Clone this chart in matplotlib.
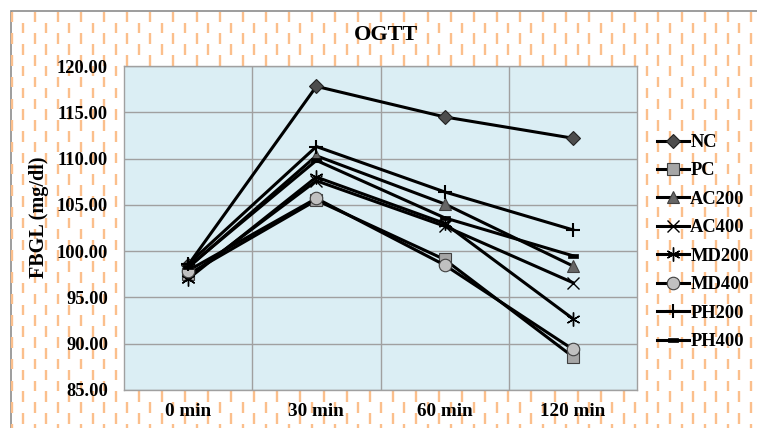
import matplotlib
matplotlib.use("Agg")
import matplotlib.pyplot as plt
from matplotlib.collections import LineCollection
from matplotlib.patches import Rectangle
from matplotlib.path import Path
import numpy as np

categories = ["0 min", "30 min", "60 min", "120 min"]
NC = [98.5, 117.8, 114.5, 112.2]
PC = [97.5, 105.5, 99.1, 88.6]
AC200 = [98.2, 110.3, 105.1, 98.4]
AC400 = [97.2, 107.6, 102.7, 96.6]
MD200 = [97.0, 108.0, 103.0, 92.7]
MD400 = [97.9, 105.7, 98.5, 89.4]
PH200 = [98.6, 111.3, 106.4, 102.3]
PH400 = [98.3, 109.8, 103.6, 99.5]
series_names = ["NC", "PC", "AC200", "AC400", "MD200", "MD400", "PH200", "PH400"]
series_values = [NC, PC, AC200, AC400, MD200, MD400, PH200, PH400]
yticks = [85, 90, 95, 100, 105, 110, 115, 120]

W, H = 757, 428
fig = plt.figure(figsize=(W / 100, H / 100), dpi=100)
fig.patch.set_facecolor("white")

def fx(px):
    return px / W

def fy(py):
    return 1 - py / H

# chart area border and background pattern
fig.add_artist(Rectangle((fx(11), fy(H + 5)), fx(W + 5), (H - 6) / H, transform=fig.transFigure,
                         facecolor="white", edgecolor="#8c8c8c", lw=1.2, zorder=0))
segs = []
col_dx = 11.55
per = 21.7
dash = 10.5
x = 11.7
i = 0
while x < W + 5:
    y0 = 11.7 if i % 2 == 0 else 11.7 + per / 2
    y = y0
    while y < H + 5:
        segs.append([(fx(x), fy(y)), (fx(x), fy(min(y + dash, H + 5)))])
        y += per
    x += col_dx
    i += 1
fig.add_artist(LineCollection(segs, colors="#fbbf8c", linewidths=1.7, transform=fig.transFigure, zorder=0.5))

ax = fig.add_axes([fx(124), fy(390), fx(637) - fx(124), (390 - 66) / H])
ax.set_facecolor("#dbeef4")
ax.set_zorder(1)

rect = Path([(-1, -0.45), (1, -0.45), (1, 0.45), (-1, 0.45), (-1, -0.45)],
            [Path.MOVETO, Path.LINETO, Path.LINETO, Path.LINETO, Path.CLOSEPOLY])
styles = [
    dict(marker="D", ms=7, mfc="#4d4d4d", mec="#222222", mew=0.8),
    dict(marker="s", ms=8, mfc="#a6a6a6", mec="#404040", mew=0.8),
    dict(marker="^", ms=8, mfc="#666666", mec="#404040", mew=0.8),
    dict(marker="x", ms=8, mfc="black", mec="black", mew=1.0),
    dict(marker=(6, 2, 0), ms=10, mfc="black", mec="black", mew=1.0),
    dict(marker="o", ms=9, mfc="#c0c0c0", mec="#404040", mew=0.8),
    dict(marker="+", ms=10, mfc="black", mec="black", mew=1.5),
    dict(marker=rect, ms=7, mfc="black", mec="black", mew=0.5),
]
xs = np.arange(len(categories))
for name, vals, st in zip(series_names, series_values, styles):
    ax.plot(xs, vals, color="black", lw=2.2, label=name, zorder=3, **st)

ax.set_xlim(-0.5, len(categories) - 0.5)
ax.set_ylim(85, 120)
ax.set_yticks(yticks)
ax.set_yticklabels([f"{v:.2f}" for v in yticks])
ax.set_xticks(xs)
ax.set_xticklabels(categories)
ax.set_xticks([0.5, 1.5, 2.5], minor=True)
ax.grid(True, which="major", axis="y", color="#a0a0a0", lw=1.0, zorder=1)
ax.grid(True, which="minor", axis="x", color="#a0a0a0", lw=1.0, zorder=1)
ax.tick_params(which="both", length=0)
ax.tick_params(axis="y", pad=11.5)
ax.tick_params(axis="x", pad=9)
for lab in ax.get_xticklabels():
    lab.set_fontfamily("Liberation Serif")
    lab.set_fontweight("bold")
    lab.set_fontsize(13.8)
for lab in ax.get_yticklabels():
    lab.set_fontfamily("Liberation Serif")
    lab.set_fontweight("bold")
    lab.set_fontsize(13.3)
for sp in ax.spines.values():
    sp.set_color("#a0a0a0")
    sp.set_linewidth(1.0)

fig.text(fx(386), fy(35), "OGTT", ha="center", va="center", fontfamily="Liberation Serif",
         fontweight="bold", fontsize=16)
fig.text(fx(39), fy(217), "FBGL (mg/dl)", ha="center", va="center", rotation=90,
         fontfamily="Liberation Serif", fontweight="bold", fontsize=14.5)

leg = ax.legend(loc="upper left", bbox_to_anchor=(fx(657), fy(134)), bbox_transform=fig.transFigure,
                frameon=False, prop=dict(family="Liberation Serif", weight="bold", size=13.3),
                handlelength=1.75, handletextpad=0.05, labelspacing=0.62, borderpad=0, borderaxespad=0)

fig.savefig("out.png", dpi=100)
